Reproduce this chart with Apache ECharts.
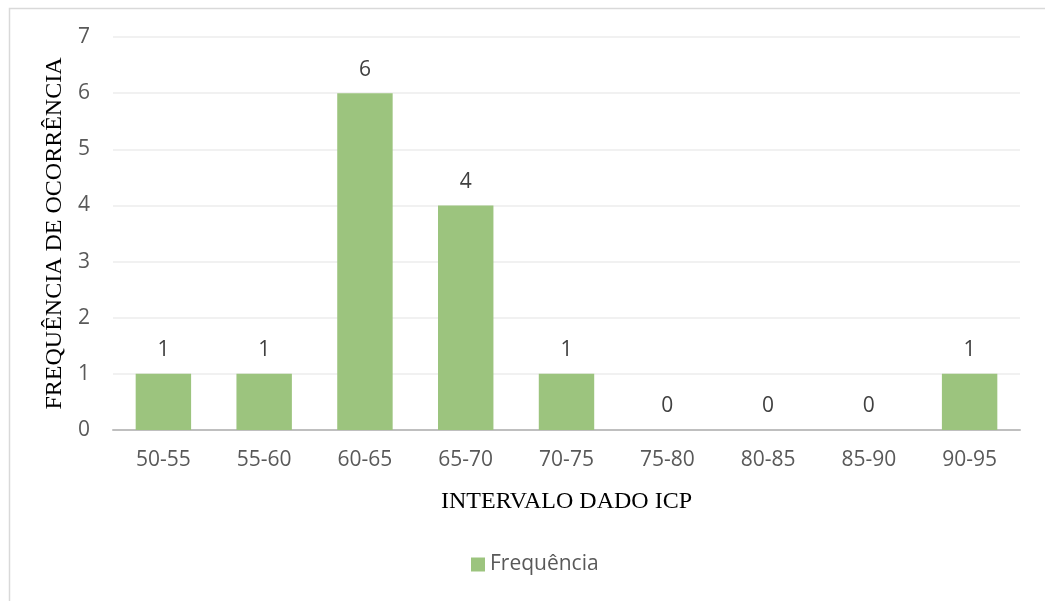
<!DOCTYPE html>
<html>
<head>
<meta charset="utf-8">
<script src="https://cdn.jsdelivr.net/npm/echarts@6/dist/echarts.min.js"></script>
<style>
  html, body { margin: 0; padding: 0; background: #ffffff; }
  #chart { width: 1045px; height: 601px; }
</style>
</head>
<body>
<div id="chart"></div>
<script>
// ICP interval classes and how often each occurred
const categories = ['50-55', '55-60', '60-65', '65-70', '70-75', '75-80', '80-85', '85-90', '90-95'];
const frequencies = [1, 1, 6, 4, 1, 0, 0, 0, 1];
const seriesName = 'Frequência';
const xTitle = 'INTERVALO DADO ICP';
const yTitle = 'FREQUÊNCIA DE OCORRÊNCIA';

const labelFont = 'Open Sans, Liberation Sans, sans-serif';
const titleFont = 'Liberation Serif, DejaVu Serif, serif';

const chart = echarts.init(document.getElementById('chart'), null, { renderer: 'canvas' });
chart.setOption({
  backgroundColor: '#ffffff',
  animation: false,
  graphic: [{
    type: 'rect',
    shape: { x: 9.5, y: 8.5, width: 1100, height: 700 },
    style: { fill: 'none', stroke: '#d9d9d9', lineWidth: 1.5 },
    silent: true
  }],
  grid: { left: 113, right: 25, top: 37, bottom: 171, containLabel: false },
  legend: {
    data: [seriesName],
    bottom: 21,
    left: 466,
    itemWidth: 14,
    itemHeight: 14,
    itemGap: 6,
    icon: 'rect',
    textStyle: { fontFamily: labelFont, fontSize: 21, color: '#595959' }
  },
  xAxis: {
    type: 'category',
    data: categories,
    axisTick: { show: false },
    axisLine: { lineStyle: { color: '#bfbfbf', width: 2 } },
    axisLabel: { fontFamily: labelFont, fontSize: 21, color: '#595959', margin: 20 },
    name: xTitle,
    nameLocation: 'middle',
    nameGap: 60,
    nameTextStyle: { fontFamily: titleFont, fontSize: 24, color: '#000000' }
  },
  yAxis: {
    type: 'value',
    min: 0,
    max: 7,
    interval: 1,
    axisLine: { show: false },
    axisTick: { show: false },
    splitLine: { lineStyle: { color: '#ececec', width: 1.5 } },
    axisLabel: { fontFamily: labelFont, fontSize: 21, color: '#595959', margin: 23 },
    name: yTitle,
    nameLocation: 'middle',
    nameGap: 35,
    nameRotate: 90,
    nameTextStyle: { fontFamily: titleFont, fontSize: 24, color: '#000000' }
  },
  series: [{
    name: seriesName,
    type: 'bar',
    data: frequencies,
    barWidth: '55%',
    itemStyle: { color: '#9cc47e' },
    label: {
      show: true,
      position: 'top',
      distance: 13,
      fontFamily: labelFont,
      fontSize: 21,
      color: '#404040'
    }
  }]
});
</script>
</body>
</html>
